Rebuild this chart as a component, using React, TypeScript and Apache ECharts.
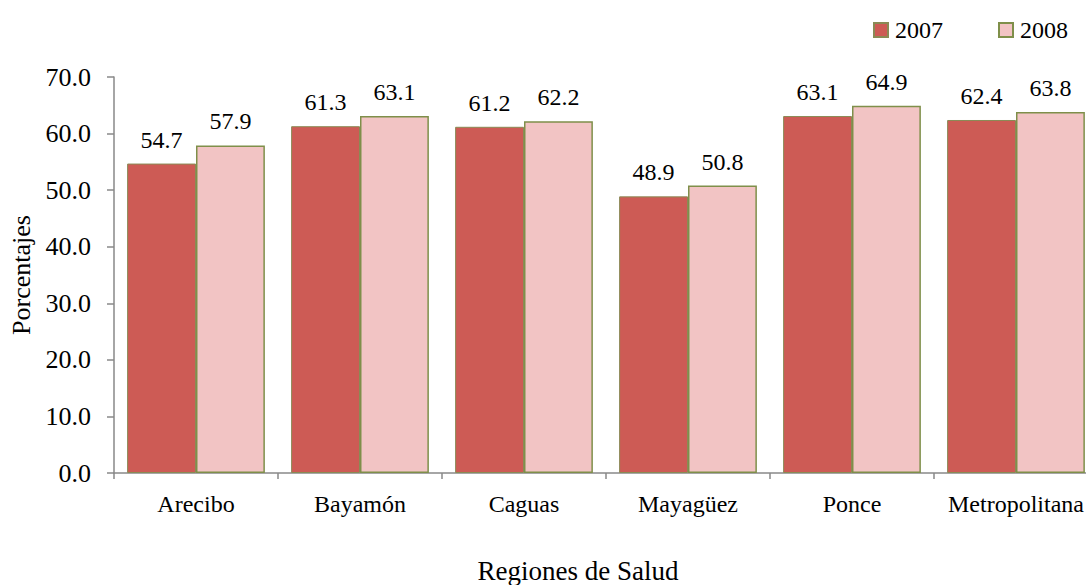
import React, { useEffect, useRef } from "react";
import * as echarts from "echarts";

const categories = ["Arecibo", "Bayamón", "Caguas", "Mayagüez", "Ponce", "Metropolitana"];
const values2007 = [54.7, 61.3, 61.2, 48.9, 63.1, 62.4];
const values2008 = [57.9, 63.1, 62.2, 50.8, 64.9, 63.8];
const seriesNames = ["2007", "2008"];

const FONT = "Liberation Serif";

export default function App() {
  const ref = useRef<HTMLDivElement>(null);
  useEffect(() => {
    if (!ref.current) return;
    const chart = echarts.init(ref.current, undefined, { renderer: "svg" });
    const label = {
      show: true,
      position: "top" as const,
      distance: 12,
      fontFamily: FONT,
      fontSize: 24,
      color: "#000",
      formatter: (p: any) => Number(p.value).toFixed(1),
    };
    chart.setOption({
      animation: false,
      textStyle: { fontFamily: FONT },
      legend: {
        right: 13,
        top: 13,
        itemWidth: 14,
        itemHeight: 14,
        itemGap: 55,
        icon: "rect",
        textStyle: { fontFamily: FONT, fontSize: 24, color: "#000", padding: [0, 0, 0, 2] },
        data: seriesNames,
      },
      grid: { left: 114, width: 984, top: 77, bottom: 112, containLabel: false, outerBoundsMode: "none" },
      xAxis: {
        type: "category",
        data: categories,
        name: "Regiones de Salud",
        nameLocation: "middle",
        nameGap: 84,
        nameTextStyle: { fontFamily: FONT, fontSize: 27, color: "#000", padding: [0, 56, 0, 0] },
        axisLine: { lineStyle: { color: "#898989", width: 1.5 } },
        axisTick: { show: true, interval: 0, alignWithLabel: false, length: 6, lineStyle: { color: "#898989", width: 1.5 } },
        axisLabel: { fontFamily: FONT, fontSize: 24, color: "#000", margin: 19, interval: 0, hideOverlap: false },
      },
      yAxis: {
        type: "value",
        min: 0,
        max: 70,
        interval: 10,
        name: "Porcentajes",
        nameLocation: "middle",
        nameGap: 80,
        nameRotate: 90,
        nameTextStyle: { fontFamily: FONT, fontSize: 26, color: "#000" },
        axisLine: { show: true, lineStyle: { color: "#898989", width: 1.5 } },
        axisTick: { show: true, length: 7, lineStyle: { color: "#898989", width: 1.5 } },
        splitLine: { show: false },
        axisLabel: {
          fontFamily: FONT,
          fontSize: 26,
          color: "#000",
          margin: 23,
          formatter: (v: number) => v.toFixed(1),
        },
      },
      series: [
        {
          name: seriesNames[0],
          type: "bar",
          data: values2007,
          barGap: "0%",
          barCategoryGap: "16%",
          itemStyle: { color: "#CD5B55", borderColor: "#8A8A55", borderWidth: 1 },
          label,
        },
        {
          name: seriesNames[1],
          type: "bar",
          data: values2008,
          itemStyle: { color: "#F2C4C4", borderColor: "#7F8F4A", borderWidth: 1.5 },
          label,
        },
      ],
    });
    return () => chart.dispose();
  }, []);
  return <div ref={ref} style={{ width: 1086, height: 585, position: "absolute", left: 0, top: 0 }} />;
}
